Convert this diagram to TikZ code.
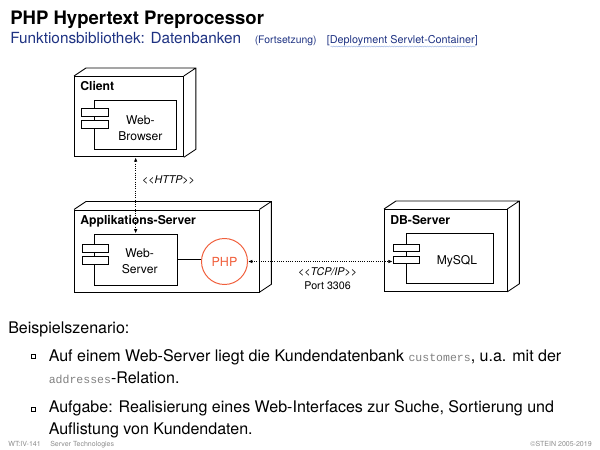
\documentclass[tikz,border=0pt]{standalone}
\usepackage{fontspec}
\setmainfont{TeX Gyre Heros}
\setmonofont{Liberation Mono}
\usepackage{tikz, xcolor}
\usetikzlibrary{arrows.meta, calc, shadows, decorations.pathmorphing}
\definecolor{slideblue}{RGB}{30,50,130}
\definecolor{phporange}{RGB}{240,95,60}
\definecolor{wavyblue}{RGB}{150,175,225}
\definecolor{footgray}{RGB}{140,140,140}
\newlength{\pxunit}
\setlength{\pxunit}{0.25mm}
\newcommand{\codeword}[1]{{\color{gray}\fontsize{8.2}{10}\selectfont\ttfamily #1}}
\tikzset{
  device/.style = {draw, line width = 0.6pt, anchor = north west, inner sep = 0pt},
  component/.style = {draw, fill = white, line width = 0.6pt, anchor = north west, inner sep = 0pt},
  port/.style = {draw, fill = white, line width = 0.6pt, anchor = north west, inner sep = 0pt, minimum width = 26.5\pxunit, minimum height = 7.6\pxunit},
  devlabel/.style = {anchor = base west, inner sep = 0pt, font = \fontsize{8.7}{10}\selectfont\bfseries},
  comptext/.style = {align = center, inner sep = 0pt, font = \fontsize{8.6}{11.5}\selectfont},
  link/.style = {densely dotted, line width = 0.6pt, {Latex[length = 1.1mm, width = 0.9mm]}-{Latex[length = 1.1mm, width = 0.9mm]}},
  linklabel/.style = {inner sep = 0pt, align = center, font = \fontsize{7.6}{9.6}\selectfont},
  bulletbox/.style = {draw, fill = white, minimum size = 4.5\pxunit, inner sep = 0pt, line width = 0.4pt, general shadow = {shadow xshift = 0.45pt, shadow yshift = -0.45pt, fill = black}},
  slidetext/.style = {anchor = base west, inner sep = 0pt, align = left, font = \fontsize{11.4}{15.6}\selectfont}
}

\begin{document}
\begin{tikzpicture}[x = 0.25mm, y = -0.25mm]
\useasboundingbox (0,0) rectangle (600,450);
\node [anchor = base west, inner sep = 0pt, font = \fontsize{13.2}{16}\selectfont\bfseries] (title) at (10,25) {PHP Hypertext Preprocessor};
\node [anchor = base west, inner sep = 0pt, text = slideblue, font = \fontsize{10.9}{13}\selectfont] (subtitle) at (10,44) {Funktionsbibliothek: Datenbanken};
\node [anchor = base west, inner sep = 0pt, text = slideblue, font = \fontsize{7.4}{9}\selectfont] (cont) at (254.5,44) {(Fortsetzung)};
\node [anchor = base west, inner sep = 0pt, text = slideblue, font = \fontsize{7.7}{9}\selectfont] (ref) at (326.5,44) {[Deployment Servlet-Container]};
\draw [wavyblue, line width = 0.3pt, decorate, decoration = {snake, amplitude = 0.35pt, segment length = 1.8pt}] ($(ref.base west)+(4,2.5)$) -- ($(ref.base east)+(-3,2.5)$);

\node [device, minimum width = 109\pxunit, minimum height = 80.5\pxunit] (client) at (74,76) {};
\node [device, minimum width = 184.5\pxunit, minimum height = 82\pxunit] (appserver) at (74,209.5) {};
\node [device, minimum width = 122.5\pxunit, minimum height = 82\pxunit] (dbserver) at (384,209) {};
\foreach \n in {client, appserver, dbserver}
  \draw [line width = 0.6pt] (\n.north west) -- ++(12,-8) -| ($(\n.south east)+(12,-8)$) -- (\n.south east) (\n.north east) -- ++(12,-8);
\node [devlabel] (clientlabel) at (80,91) {Client};
\node [devlabel] (appserverlabel) at (80,225) {Applikations-Server};
\node [devlabel] (dbserverlabel) at (390,225) {DB-Server};

\node [component, minimum width = 82\pxunit, minimum height = 49\pxunit] (browser) at (94,100.5) {};
\node [component, minimum width = 82.5\pxunit, minimum height = 51\pxunit] (webserver) at (94,233.5) {};
\node [component, minimum width = 87\pxunit, minimum height = 50\pxunit] (mysql) at (406,233) {};
\node [port] (browserport1) at (81,108.3) {};
\node [port] (browserport2) at (81,120) {};
\node [port] (webserverport1) at (81.5,244) {};
\node [port] (webserverport2) at (81.5,256) {};
\node [port] (mysqlport1) at (392.7,243.5) {};
\node [port] (mysqlport2) at (392.7,255.7) {};
\node [comptext] (browsertext) at ($(browser.center)+(5,2.5)$) {Web-\\Browser};
\node [comptext] (webservertext) at ($(webserver.center)+(4,1.5)$) {Web-\\Server};
\node [comptext] (mysqltext) at ($(mysql.center)+(7,2.5)$) {MySQL};
\node [circle, draw = phporange, text = phporange, line width = 0.7pt, minimum size = 46\pxunit, inner sep = 0pt, font = \fontsize{8.9}{10}\selectfont] (php) at (224.5,261.5) {PHP};

\draw [line width = 0.6pt] (webserver.east) -- (webserver.east -| php.west);
\draw [link] (client.south -| webserver.north) -- (webserver.north) node [linklabel, pos = 0.3, anchor = west, xshift = 6\pxunit] (httplabel) {\itshape <\kern0pt<HTTP>\kern0pt>};
\draw [link] (php.east) -- (php.east -| mysqlport2.west) node [linklabel, pos = 0.55, anchor = north, yshift = -6\pxunit] (tcplabel) {\itshape <\kern0pt<TCP/IP>\kern0pt>\\Port 3306};

\node [slidetext] (scenario) at (8,333) {Beispielszenario:};
\node [bulletbox] (bullet1) at (33.5,356.5) {};
\node [slidetext] (item1) at (48.5,383) {Auf einem Web-Server liegt die Kundendatenbank \codeword{customers}, u.a. mit der\\\codeword{addresses}-Relation.};
\node [bulletbox] (bullet2) at (33.5,409.5) {};
\node [slidetext] (item2) at (48.5,434) {Aufgabe: Realisierung eines Web-Interfaces zur Suche, Sortierung und\\Auflistung von Kundendaten.};

\node [anchor = base west, inner sep = 0pt, text = footgray, font = \fontsize{5}{6}\selectfont] (slideno) at (8,446) {WT:IV-141};
\node [anchor = base west, inner sep = 0pt, text = footgray, font = \fontsize{5}{6}\selectfont] (course) at (50,446) {Server Technologies};
\node [anchor = base east, inner sep = 0pt, text = footgray, font = \fontsize{5}{6}\selectfont] (copyright) at (592,446) {©STEIN 2005-2019};
\end{tikzpicture}
\end{document}
